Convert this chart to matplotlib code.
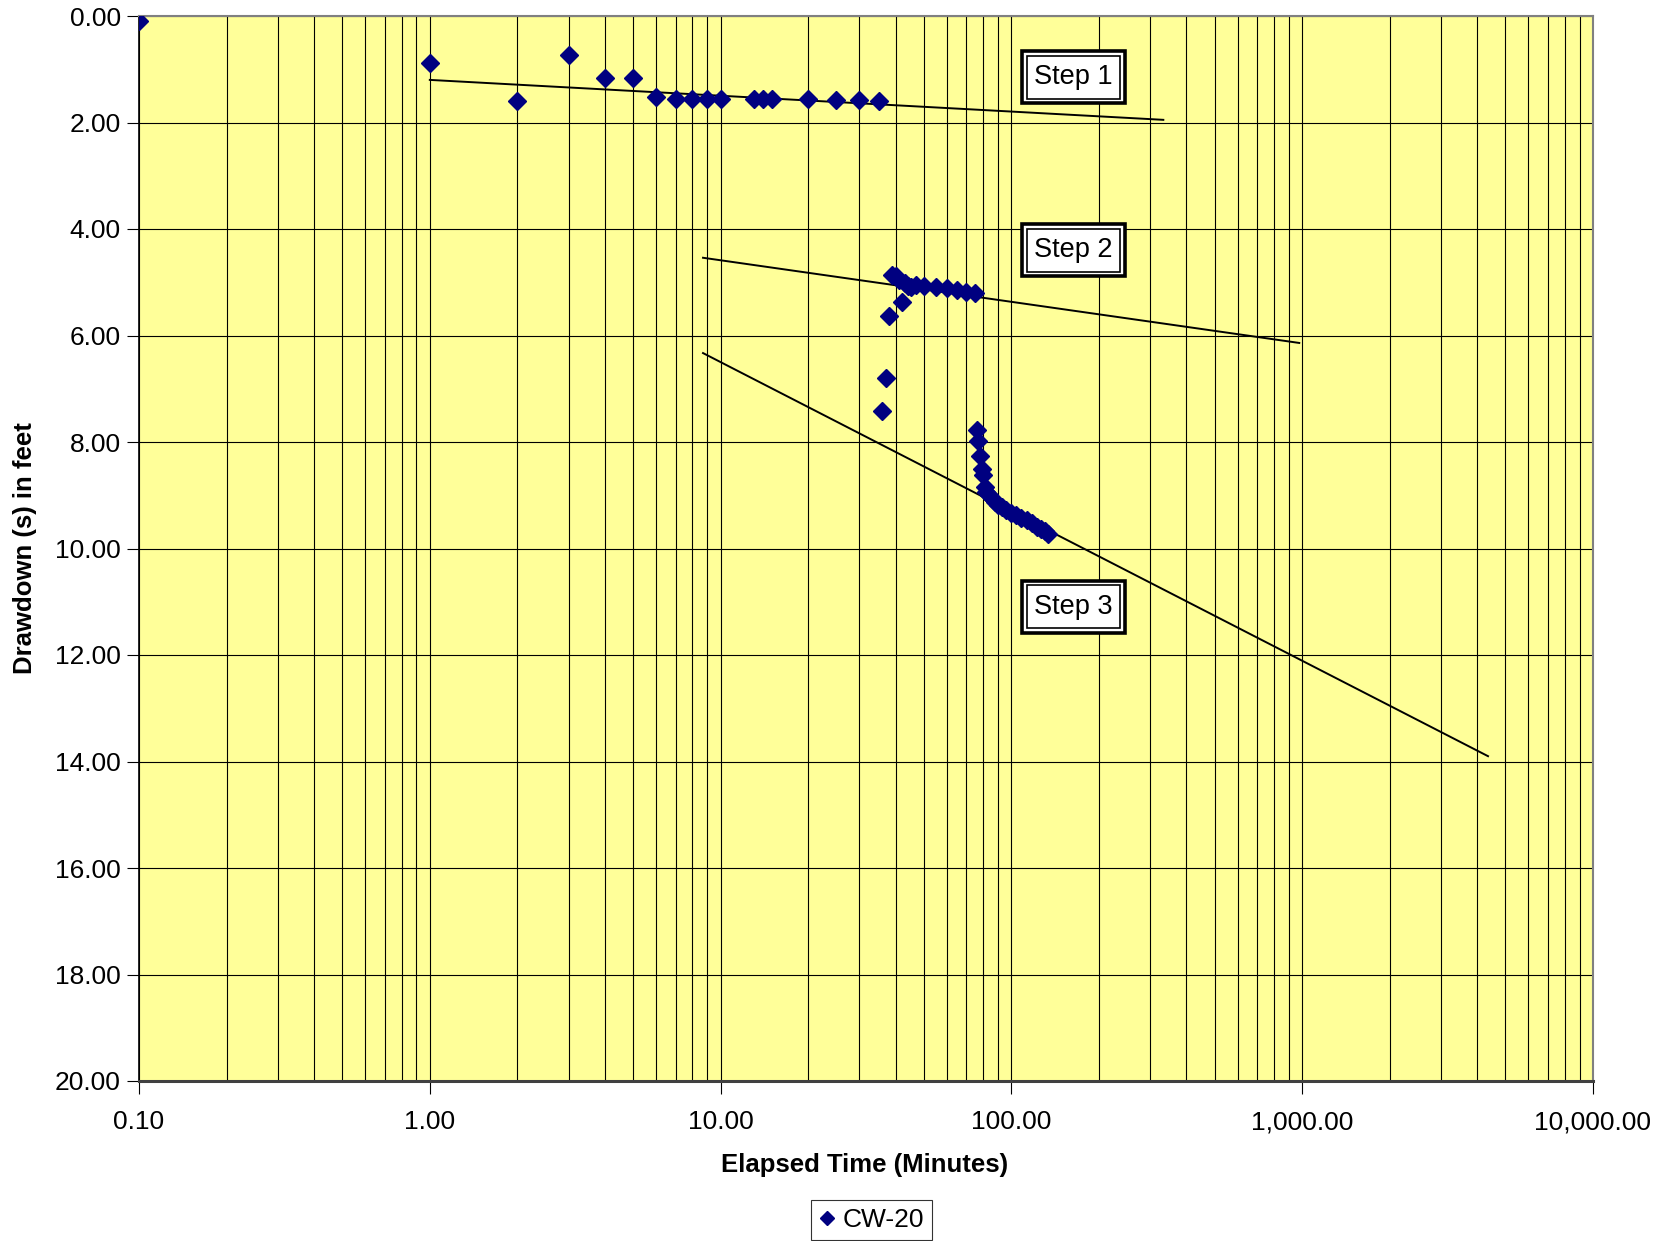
import matplotlib
matplotlib.use("Agg")
import matplotlib.pyplot as plt
from matplotlib.patches import Rectangle
from matplotlib.ticker import FixedLocator, FuncFormatter, LogLocator, NullFormatter
import numpy as np

plt.rcParams['font.family'] = ['Liberation Sans', 'DejaVu Sans']

# ---- data: CW-20 drawdown (feet) vs elapsed time (minutes) ----
t_step1 = [0.1, 1, 2, 3, 4, 5, 6, 7, 8, 9, 10, 13, 14, 15, 20, 25, 30, 35]
s_step1 = [0.10, 0.88, 1.59, 0.74, 1.16, 1.16, 1.53, 1.55, 1.55, 1.55, 1.55,
           1.55, 1.55, 1.55, 1.55, 1.58, 1.58, 1.60]

t_step2 = [36, 37, 38, 39, 40, 41, 42, 43, 44, 45, 47, 50, 55, 60, 65, 70, 75]
s_step2 = [7.42, 6.80, 5.64, 4.87, 4.88, 4.96, 5.38, 5.02, 5.07, 5.09, 5.06,
           5.07, 5.09, 5.11, 5.15, 5.18, 5.21]

t_step3 = [76, 77, 78, 79, 80, 81, 82, 84, 86, 88, 90, 93, 96, 100, 104, 108,
           113, 118, 122, 126, 130, 134]
s_step3 = [7.77, 7.98, 8.27, 8.50, 8.62, 8.85, 8.94, 9.00, 9.06, 9.12, 9.19,
           9.23, 9.28, 9.33, 9.37, 9.42, 9.47, 9.53, 9.59, 9.64, 9.68, 9.72]

# straight-line (semi-log) fits drawn for each step
fit1_t = [1.0, 333.0]
fit1_s = [1.20, 1.95]
fit2_t = [8.7, 977.0]
fit2_s = [4.54, 6.14]
fit3_t = [8.7, 4355.0]
fit3_s = [6.33, 13.90]

step_labels = ["Step 1", "Step 2", "Step 3"]
x_ticks = [0.1, 1, 10, 100, 1000, 10000]
y_ticks = [0, 2, 4, 6, 8, 10, 12, 14, 16, 18, 20]
series_name = "CW-20"
x_label = "Elapsed Time (Minutes)"
y_label = "Drawdown (s) in feet"

# ---- figure ----
W, H = 1663, 1241
fig = plt.figure(figsize=(W / 100, H / 100), dpi=100)
ax = fig.add_axes([139 / W, 1 - 1081 / H, (1593 - 139) / W, (1081 - 16) / H])
ax.set_facecolor('#FFFF99')

ax.set_xscale('log')
ax.set_xlim(0.1, 10000)
ax.set_ylim(20, 0)

t_all = t_step1 + t_step2 + t_step3
s_all = s_step1 + s_step2 + s_step3

ax.plot(fit1_t, fit1_s, color='black', lw=1.4, zorder=3)
ax.plot(fit2_t, fit2_s, color='black', lw=1.4, zorder=3)
ax.plot(fit3_t, fit3_s, color='black', lw=1.4, zorder=3)

ax.plot(t_all, s_all, linestyle='none', marker='D', markersize=9,
        color='#000080', markeredgecolor='#000080', zorder=4, label=series_name)

# grid
ax.xaxis.set_major_locator(FixedLocator(x_ticks))
ax.xaxis.set_minor_locator(LogLocator(base=10, subs=np.arange(2, 10), numticks=20))
ax.xaxis.set_minor_formatter(NullFormatter())
ax.xaxis.set_major_formatter(FuncFormatter(lambda v, p: f"{v:,.2f}"))
ax.yaxis.set_major_locator(FixedLocator(y_ticks))
ax.yaxis.set_major_formatter(FuncFormatter(lambda v, p: f"{v:.2f}"))

ax.grid(which='major', axis='both', color='black', lw=0.8, zorder=1)
ax.grid(which='minor', axis='x', color='black', lw=0.8, zorder=1)
ax.set_axisbelow(True)

ax.tick_params(axis='x', which='major', direction='out', length=9, width=0.8,
               labelsize=19, pad=12, colors='black')
ax.tick_params(axis='x', which='minor', length=0)
ax.tick_params(axis='y', which='major', direction='out', length=9, width=0.8,
               labelsize=19, pad=4)

for side in ['top', 'right']:
    ax.spines[side].set_color('#808080')
    ax.spines[side].set_linewidth(1.5)
ax.spines['left'].set_color('black')
ax.spines['left'].set_linewidth(1.2)
ax.spines['bottom'].set_color('#404040')
ax.spines['bottom'].set_linewidth(2.2)

fig.text(865 / W, 1 - 1165 / H, x_label, ha='center', va='center',
         fontsize=18.5, fontweight='bold')
fig.text(25 / W, 1 - 548 / H, y_label, ha='center', va='center',
         rotation=90, fontsize=18.5, fontweight='bold')

# step label boxes (double border)
box_y = [0.9427, 0.780, 0.4454]
box_x = 0.6427
ow, oh = 103 / 1454, 52 / 1065
iw, ih = 93 / 1454, 43 / 1065
for lab, cy in zip(step_labels, box_y):
    ax.add_patch(Rectangle((box_x - ow / 2, cy - oh / 2), ow, oh,
                           transform=ax.transAxes, facecolor='white',
                           edgecolor='black', lw=2.6, zorder=5))
    ax.add_patch(Rectangle((box_x - iw / 2, cy - ih / 2), iw, ih,
                           transform=ax.transAxes, facecolor='white',
                           edgecolor='black', lw=1.2, zorder=6))
    ax.text(box_x, cy, lab, transform=ax.transAxes, ha='center', va='center',
            fontsize=19.5, zorder=7)

leg = fig.legend(loc='lower center', bbox_to_anchor=(871.5 / W, 0.001),
                 fontsize=19, frameon=True, fancybox=False, edgecolor='black',
                 handlelength=0.6, handletextpad=0.3, borderpad=0.3,
                 markerscale=0.75, borderaxespad=0)
leg.get_frame().set_linewidth(0.8)

fig.savefig('out.png', dpi=100, facecolor='white')
